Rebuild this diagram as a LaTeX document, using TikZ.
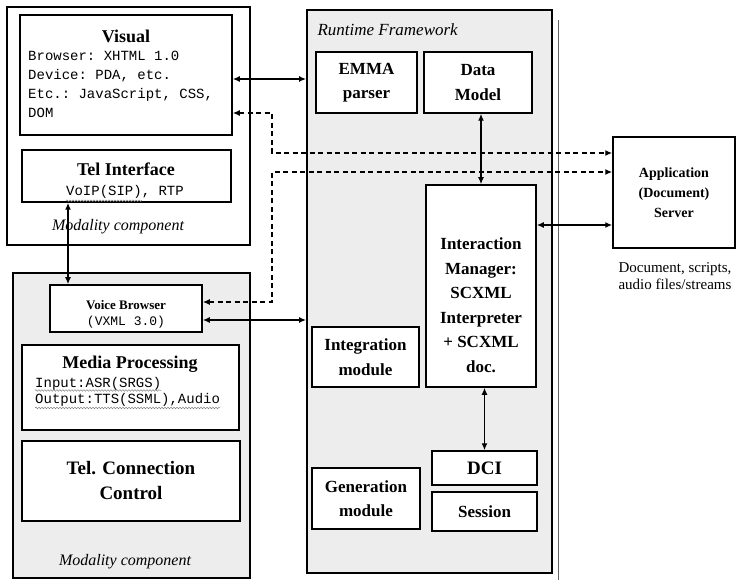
\documentclass[tikz,border=0pt]{standalone}
\usepackage{fontspec}
\setmainfont{Liberation Serif}
\setmonofont{Liberation Mono}
\usetikzlibrary{arrows.meta,decorations.pathmorphing}

\begin{document}
\begin{tikzpicture}[x=1pt, y=-1pt,
  frame/.style={draw, line width=1.8pt, inner sep=0pt},
  box/.style={draw, line width=1.5pt, fill=white, inner sep=0pt},
  shaded/.style={fill=black!7},
  title/.style={font=\fontsize{17}{24.5}\selectfont\bfseries, align=center},
  code/.style={font=\fontsize{14}{19}\selectfont\ttfamily, align=left, inner sep=0pt},
  note/.style={font=\fontsize{16}{19}\selectfont\itshape},
  link/.style={line width=1.8pt, {Latex[length=7pt,width=6pt]}-{Latex[length=7pt,width=6pt]}},
  dlink/.style={link, dash pattern=on 5pt off 3.5pt},
  squiggle/.style={draw=black!50, line width=0.5pt, decorate,
    decoration={snake, amplitude=0.8pt, segment length=3pt}}
]

\useasboundingbox (0,0) rectangle (737,580);

\node[frame, shaded, minimum width=245pt, minimum height=563pt] (rf) at (429.5,291.5) {};
\draw[black!60, line width=0.8pt] (558,20) -- (558,580);
\node[note, font=\fontsize{17}{19}\selectfont\itshape, anchor=west] (rftitle) at (314,30) {Runtime Framework};

\node[box, title, minimum width=101pt, minimum height=61pt] (emma) at (366.5,82.5) {EMMA\\parser};
\node[box, title, minimum width=108pt, minimum height=61pt] (dm) at (478,82.5) {Data\\Model};
\node[box, minimum width=110pt, minimum height=202pt] (im) at (481,286) {};
\node[title] (imtext) at (481,305) {Interaction\\Manager:\\SCXML\\Interpreter\\+ SCXML\\doc.};
\node[box, title, minimum width=107pt, minimum height=60pt] (integ) at (365.5,357) {Integration\\module};
\node[box, title, minimum width=108pt, minimum height=61pt] (gen) at (366,498.5) {Generation\\module};
\node[box, title, font=\fontsize{19}{24}\selectfont\bfseries, minimum width=105pt, minimum height=34pt] (dci) at (484.5,468) {DCI};
\node[box, title, minimum width=105pt, minimum height=39pt] (sess) at (484.5,511.5) {Session};

\node[frame, fill=white, minimum width=243pt, minimum height=238pt] (mctop) at (128.5,126) {};
\node[box, minimum width=212pt, minimum height=120pt] (visual) at (126,75) {};
\node[title, font=\fontsize{18}{24}\selectfont\bfseries] (vistitle) at (126,36) {Visual};
\node[code, anchor=north west] (vistext) at (28,51) {Browser: XHTML 1.0\\Device: PDA, etc.\\Etc.: JavaScript, CSS,\\DOM};
\node[box, minimum width=209pt, minimum height=52pt] (telif) at (126.5,176) {};
\node[title, font=\fontsize{18}{24}\selectfont\bfseries] (teliftitle) at (126,169) {Tel Interface};
\node[code] (voip) at (125,192) {VoIP(SIP), RTP};
\draw[squiggle] ([yshift=-2pt]voip.south west) -- ([xshift=76pt,yshift=-2pt]voip.south west);
\node[note] (mctoplabel) at (118,227) {Modality component};

\node[frame, shaded, minimum width=237pt, minimum height=305pt] (mcbot) at (131.5,425.5) {};
\node[box, minimum width=152pt, minimum height=47pt] (vb) at (126,308.5) {};
\node[font=\fontsize{13}{15}\selectfont\bfseries] (vbtitle) at (126,305) {Voice Browser};
\node[code, font=\fontsize{13}{15}\selectfont\ttfamily] (vbtext) at (126,322) {(VXML 3.0)};
\node[box, minimum width=217pt, minimum height=85pt] (media) at (130.5,387.5) {};
\node[title, font=\fontsize{18}{24}\selectfont\bfseries] (mediatitle) at (130,364) {Media Processing};
\node[code, font=\fontsize{14}{16.5}\selectfont\ttfamily, anchor=north west] (mediatext) at (35,377) {Input:ASR(SRGS)\\Output:TTS(SSML),Audio};
\draw[squiggle] ([yshift=16.5pt]mediatext.south west) -- ([xshift=126pt,yshift=16.5pt]mediatext.south west);
\draw[squiggle] ([yshift=-1pt]mediatext.south west) -- ([yshift=-1pt]mediatext.south east);
\node[box, title, font=\fontsize{19}{25}\selectfont\bfseries, minimum width=218pt, minimum height=80pt] (telconn) at (131,481) {Tel. Connection\\Control};
\node[note] (mcbotlabel) at (125,562) {Modality component};

\node[box, font=\fontsize{14}{20}\selectfont\bfseries, align=center, minimum width=122pt, minimum height=111pt] (app) at (674,192.5) {Application\\(Document)\\Server};
\node[font=\fontsize{15}{17}\selectfont, align=center] (appnote) at (675,276) {Document, scripts,\\audio files/streams};

\coordinate (visport) at (232,79);
\coordinate (vbport) at (202,320);
\coordinate (vbtop) at (68,285);
\coordinate (imapp) at (536,225);
\coordinate (dashA) at (272,113);
\coordinate (dashB) at (272,153);
\coordinate (dashC) at (272,172);
\coordinate (dashD) at (272,302);

\draw[link] (visual.east |- visport) -- (rf.west |- visport);
\draw[link] (vb.east |- vbport) -- (rf.west |- vbport);
\draw[link] (vbtop |- telif.south) -- (vbtop |- vb.north);
\draw[link] (im.north |- dm.south) -- (im.north);
\draw[link] (dci.north |- im.south) -- (dci.north);
\draw[link] (im.east |- imapp) -- (app.west |- imapp);

\draw[dlink] (visual.east |- dashA) -- (dashA) -- (dashB) -- (app.west |- dashB);
\draw[dlink] (vb.east |- dashD) -- (dashD) -- (dashC) -- (app.west |- dashC);
\end{tikzpicture}
\end{document}
